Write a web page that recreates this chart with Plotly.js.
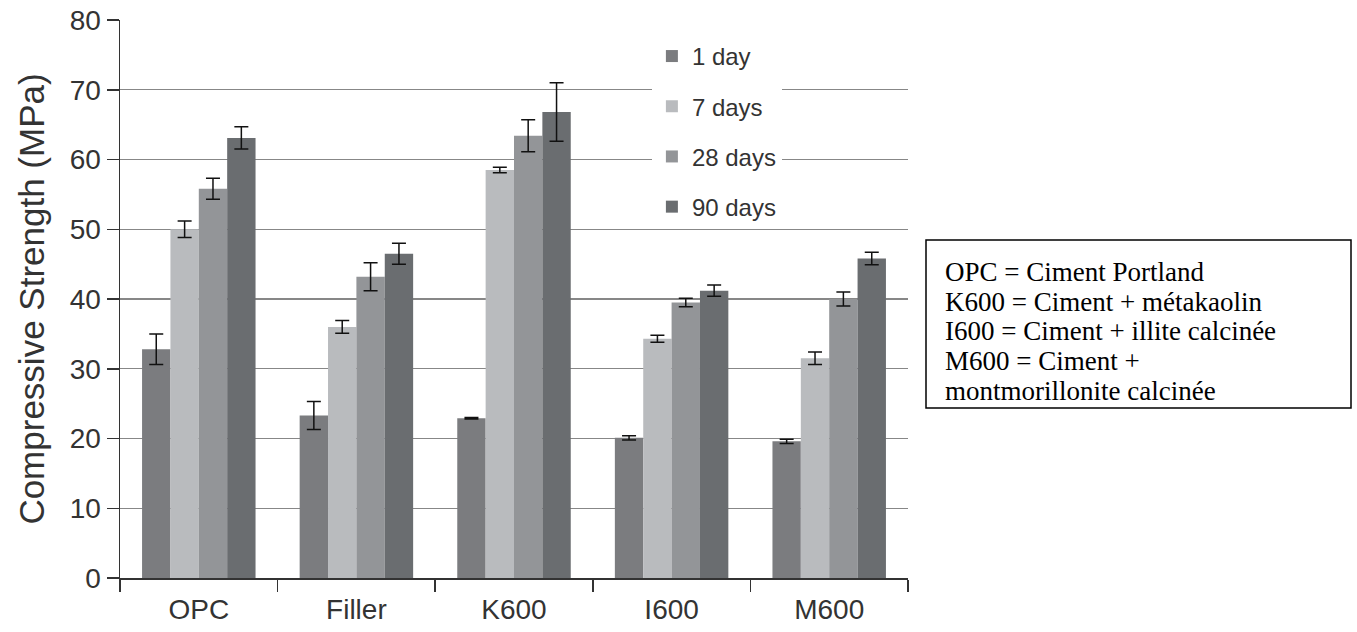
<!DOCTYPE html>
<html>
<head>
<meta charset="utf-8">
<script src="https://cdn.plot.ly/plotly-3.0.1.min.js"></script>
<style>html,body{margin:0;padding:0;background:#fff;}#chart{width:1357px;height:632px;}</style>
</head>
<body>
<div id="chart"></div>
<script>
const categories = ["OPC", "Filler", "K600", "I600", "M600"];
const seriesNames = ["1 day", "7 days", "28 days", "90 days"];
const day1 = [32.8, 23.3, 22.9, 20.1, 19.6];
const day1Err = [2.2, 2.0, 0.1, 0.3, 0.3];
const day7 = [50.0, 36.0, 58.5, 34.3, 31.5];
const day7Err = [1.2, 0.9, 0.4, 0.5, 0.9];
const day28 = [55.8, 43.2, 63.4, 39.5, 40.0];
const day28Err = [1.5, 2.0, 2.3, 0.6, 1.0];
const day90 = [63.1, 46.5, 66.8, 41.2, 45.8];
const day90Err = [1.6, 1.5, 4.2, 0.8, 0.9];
const yTicks = [0, 10, 20, 30, 40, 50, 60, 70, 80];
const noteLines = [
  "OPC = Ciment Portland",
  "K600 = Ciment + métakaolin",
  "I600 = Ciment + illite calcinée",
  "M600 = Ciment +",
  "montmorillonite calcinée"
];

const colors = ["#7b7c7f", "#b9bbbe", "#939598", "#6a6d70"];
const values = [day1, day7, day28, day90];
const errs = [day1Err, day7Err, day28Err, day90Err];

const traces = values.map((v, i) => ({
  type: "bar",
  name: seriesNames[i],
  x: categories,
  y: v,
  legendgroup: "g" + i,
  marker: {color: colors[i], line: {width: 0}},
  error_y: {type: "data", array: errs[i], visible: true, color: "#111", thickness: 1.5, width: 7}
}));

// pixel helpers for the plot area (l=120, plot width 788, t=20, plot height 558)
const px = x => (x - 120) / 788;
const py = y => (578 - y) / 558;

const noteAnnotations = noteLines.map((t, i) => ({
  xref: "paper", yref: "paper",
  x: px(943), xanchor: "left",
  y: py(272 + i * 29.7), yanchor: "middle",
  text: t, showarrow: false, align: "left",
  font: {family: "Liberation Serif, Times New Roman, serif", size: 27, color: "#000"}
}));

const layout = {
  width: 1357, height: 632,
  margin: {l: 120, r: 449, t: 20, b: 54},
  paper_bgcolor: "#fff", plot_bgcolor: "#fff",
  barmode: "group", bargap: 0.28, bargroupgap: 0,
  font: {family: "Liberation Sans, Arial, sans-serif", color: "#333"},
  showlegend: true,
  legend: {
    x: 0.675, xanchor: "left", y: 0.975, yanchor: "top",
    bgcolor: "#fff", borderwidth: 0,
    font: {size: 24, color: "#333"},
    traceorder: "grouped", tracegroupgap: 16,
    itemclick: false
  },
  xaxis: {
    type: "category", range: [-0.5, 4.5],
    showline: true, linecolor: "#333", linewidth: 1.5,
    ticks: "outside", tickson: "boundaries", ticklen: 12, tickcolor: "#333", tickwidth: 1.5,
    tickfont: {size: 28, color: "#333"}, ticklabelstandoff: 6,
    showgrid: false, zeroline: false, fixedrange: true
  },
  yaxis: {
    range: [0, 80], tickvals: yTicks,
    showline: true, linecolor: "#333", linewidth: 1.5,
    ticks: "outside", ticklen: 12, tickcolor: "#333", tickwidth: 1.5,
    tickfont: {size: 28, color: "#333"},
    showgrid: true, gridcolor: "#878787", gridwidth: 1.2,
    zeroline: false,
    title: {text: "Compressive Strength (MPa)", font: {size: 35, color: "#333"}, standoff: 14},
    fixedrange: true
  },
  shapes: [{
    type: "rect", xref: "paper", yref: "paper",
    x0: px(926), x1: px(1351), y0: py(408), y1: py(240),
    line: {color: "#000", width: 1.5}, fillcolor: "#fff", layer: "above"
  }],
  annotations: noteAnnotations
};

Plotly.newPlot("chart", traces, layout, {displayModeBar: false, staticPlot: true});
</script>
</body>
</html>
